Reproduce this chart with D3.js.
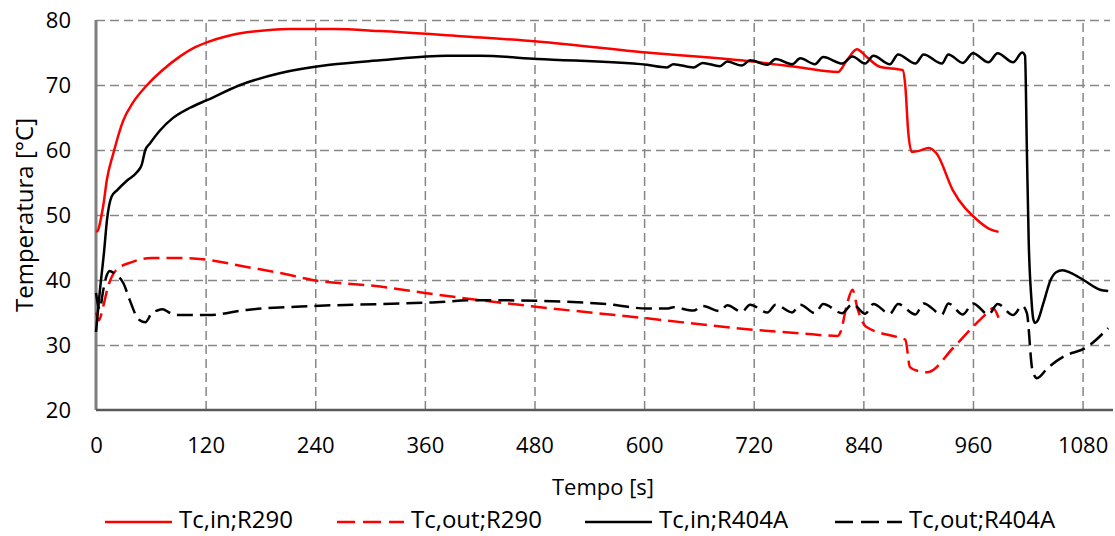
<!DOCTYPE html>
<html>
<head>
<meta charset="utf-8">
<script src="https://cdn.jsdelivr.net/npm/d3@7"></script>
<style>
  body { margin: 0; background: #fff; }
  svg text { font-family: "Open Sans", sans-serif; fill: #000; }
</style>
</head>
<body>
<div id="chart"></div>
<script>
// time axis ticks (s) and temperature ticks (°C)
const xTicks = [0, 120, 240, 360, 480, 600, 720, 840, 960, 1080];
const yTicks = [20, 30, 40, 50, 60, 70, 80];

// Tc,in;R290
const tInR290 = [0, 2, 5, 8, 12, 19, 30, 40, 56, 73, 92, 107, 122, 143, 165, 190, 212, 260, 311, 400, 483, 603, 719, 771, 812, 822, 833, 843, 858, 883, 886, 889, 893, 902, 911, 920, 938, 965, 979, 988];
const vInR290 = [47.4, 47.6, 49.2, 51.5, 55.5, 59.5, 64.6, 67.2, 70.0, 72.3, 74.4, 75.7, 76.6, 77.5, 78.1, 78.45, 78.6, 78.6, 78.3, 77.5, 76.7, 75.0, 73.6, 72.7, 72.0, 73.8, 75.5, 74.4, 72.8, 72.3, 69.7, 63.0, 59.7, 59.9, 60.3, 59.5, 53.8, 49.2, 47.8, 47.4];

// Tc,out;R290
const tOutR290 = [0, 3, 8, 13, 22, 40, 61, 92, 122, 165, 201, 237, 311, 360, 420, 481, 603, 724, 771, 812, 815, 822, 828, 834, 843, 880, 886, 891, 900, 910, 938, 960, 977, 982, 988];
const vOutR290 = [35.0, 33.8, 36.0, 38.9, 41.5, 42.8, 43.4, 43.4, 43.1, 42.0, 41.1, 40.0, 39.0, 38.0, 36.9, 35.9, 34.1, 32.3, 31.8, 31.4, 32.0, 36.2, 38.5, 35.4, 32.8, 31.1, 30.8, 26.6, 26.0, 25.8, 29.5, 32.8, 35.1, 35.7, 34.2];

// Tc,in;R404A
const tInR404A = [0, 4, 9, 12, 17, 23, 34, 45, 50, 54, 59, 70, 84, 103, 122, 158, 201, 256, 311, 384, 420, 483, 603, 625,
  632, 654, 664, 683, 691, 707, 716, 735, 744, 762, 771, 787, 796, 817, 828, 842, 851, 869, 878, 897, 906, 926, 933, 949, 960, 977, 987, 1004, 1014,
  1017, 1019, 1021, 1024, 1026, 1028, 1031, 1037, 1045, 1051, 1058, 1067, 1081, 1099, 1108];
const vInR404A = [32.0, 38.0, 44.6, 49.2, 52.8, 53.8, 55.3, 56.6, 57.7, 60.0, 61.0, 63.0, 64.9, 66.5, 67.7, 70.0, 71.8, 73.1, 73.8, 74.5, 74.5, 74.0, 73.1, 72.7,
  73.2, 72.7, 73.4, 72.9, 73.6, 73.0, 73.8, 73.1, 74.0, 73.2, 74.1, 73.2, 74.3, 73.3, 74.4, 73.3, 74.5, 73.2, 74.7, 73.3, 74.7, 73.3, 74.7, 73.4, 74.9, 73.5, 74.9, 73.5, 75.0,
  74.5, 60.0, 46.0, 37.0, 34.0, 33.4, 33.8, 36.4, 40.0, 41.2, 41.5, 41.1, 40.0, 38.5, 38.3];

// Tc,out;R404A
const tOutR404A = [0, 4, 8, 12, 15, 20, 30, 37, 44, 48, 54, 61, 67, 73, 80, 89, 122, 165, 237, 311, 360, 420, 481, 566, 603, 625,
  632, 654, 664, 683, 691, 707, 716, 735, 744, 762, 771, 787, 796, 817, 828, 842, 851, 869, 878, 897, 906, 926, 933, 949, 960, 977, 987, 1004, 1014,
  1019, 1025, 1030, 1042, 1059, 1085, 1108];
const vOutR404A = [38.0, 35.5, 38.5, 40.8, 41.4, 41.0, 39.5, 36.9, 34.5, 33.8, 33.5, 34.9, 35.3, 35.5, 35.0, 34.6, 34.6, 35.4, 36.0, 36.3, 36.5, 36.9, 36.8, 36.2, 35.6, 35.6,
  35.8, 35.3, 36.0, 35.2, 36.1, 35.1, 36.2, 35.0, 36.2, 35.0, 36.2, 34.9, 36.3, 34.9, 36.3, 34.8, 36.3, 34.8, 36.3, 34.7, 36.4, 34.7, 36.4, 34.7, 36.4, 34.7, 36.3, 34.6, 36.0,
  34.9, 26.2, 24.9, 26.5, 28.2, 29.7, 32.6];

const series = [
  { name: 'Tc,in;R290', t: tInR290, v: vInR290, color: '#ff0000', dash: null },
  { name: 'Tc,out;R290', t: tOutR290, v: vOutR290, color: '#ff0000', dash: '16,7' },
  { name: 'Tc,in;R404A', t: tInR404A, v: vInR404A, color: '#000000', dash: null },
  { name: 'Tc,out;R404A', t: tOutR404A, v: vOutR404A, color: '#000000', dash: '16,7' }
];

const width = 1115, height = 536;
const margin = { top: 20, right: 5, bottom: 126, left: 96 };
const innerW = width - margin.left - margin.right;
const innerH = height - margin.top - margin.bottom;

const svg = d3.select('#chart').append('svg')
  .attr('width', width)
  .attr('height', height);

const g = svg.append('g')
  .attr('transform', `translate(${margin.left},${margin.top})`);

const x = d3.scaleLinear().domain([0, 1110]).range([0, innerW]);
const y = d3.scaleLinear().domain([20, 80]).range([innerH, 0]);

// Gridlines
g.append('g')
  .attr('class', 'grid-y')
  .call(d3.axisLeft(y).tickValues(yTicks.slice(1)).tickSize(-innerW).tickFormat(''))
  .call(s => s.select('.domain').remove())
  .selectAll('line')
  .attr('stroke', '#868686')
  .attr('stroke-width', 1.5)
  .attr('stroke-dasharray', '9,5');

g.append('g')
  .attr('class', 'grid-x')
  .attr('transform', `translate(0,${innerH})`)
  .call(d3.axisBottom(x).tickValues(xTicks.slice(1)).tickSize(-innerH).tickFormat(''))
  .call(s => s.select('.domain').remove())
  .selectAll('line')
  .attr('stroke', '#868686')
  .attr('stroke-width', 1.5)
  .attr('stroke-dasharray', '9,5');

// Axes with labels
const yAxis = g.append('g')
  .call(d3.axisLeft(y).tickValues(yTicks).tickSize(0).tickPadding(25).tickFormat(d3.format('d')));
yAxis.select('.domain').remove();
yAxis.selectAll('text').attr('font-size', 22).attr('font-family', '"Open Sans", sans-serif');

const xAxis = g.append('g')
  .attr('transform', `translate(0,${innerH})`)
  .call(d3.axisBottom(x).tickValues(xTicks).tickSize(0).tickPadding(27).tickFormat(d3.format('d')));
xAxis.select('.domain').remove();
xAxis.selectAll('text').attr('font-size', 22).attr('font-family', '"Open Sans", sans-serif');

// Axis lines
g.append('line')
  .attr('x1', 0).attr('x2', 0)
  .attr('y1', 0).attr('y2', innerH)
  .attr('stroke', '#7f7f7f')
  .attr('stroke-width', 3);

g.append('line')
  .attr('x1', 0).attr('x2', innerW + 3)
  .attr('y1', innerH).attr('y2', innerH)
  .attr('stroke', '#595959')
  .attr('stroke-width', 2.5);

// Lines
const line = d3.line()
  .x(d => x(d[0]))
  .y(d => y(d[1]))
  .curve(d3.curveMonotoneX);

series.forEach(s => {
  g.append('path')
    .datum(s.t.map((t, i) => [t, s.v[i]]))
    .attr('fill', 'none')
    .attr('stroke', s.color)
    .attr('stroke-width', 2.5)
    .attr('stroke-dasharray', s.dash)
    .attr('d', line);
});

// Axis titles
svg.append('text')
  .attr('x', margin.left + innerW / 2)
  .attr('y', 495)
  .attr('text-anchor', 'middle')
  .attr('font-size', 22)
  .text('Tempo [s]');

svg.append('text')
  .attr('transform', `translate(33,${margin.top + innerH / 2}) rotate(-90)`)
  .attr('text-anchor', 'middle')
  .attr('font-size', 24)
  .text('Temperatura [°C]');

// Legend
const legendX = [105, 337, 585, 835];
const legend = svg.append('g').attr('class', 'legend');
series.forEach((s, i) => {
  const lg = legend.append('g').attr('transform', `translate(${legendX[i]},522)`);
  lg.append('line')
    .attr('x1', 0).attr('x2', 67)
    .attr('stroke', s.color)
    .attr('stroke-width', 2.5)
    .attr('stroke-dasharray', s.dash ? '18,8' : null);
  lg.append('text')
    .attr('x', 74)
    .attr('y', 6)
    .attr('font-size', 24)
    .text(s.name);
});
</script>
</body>
</html>
